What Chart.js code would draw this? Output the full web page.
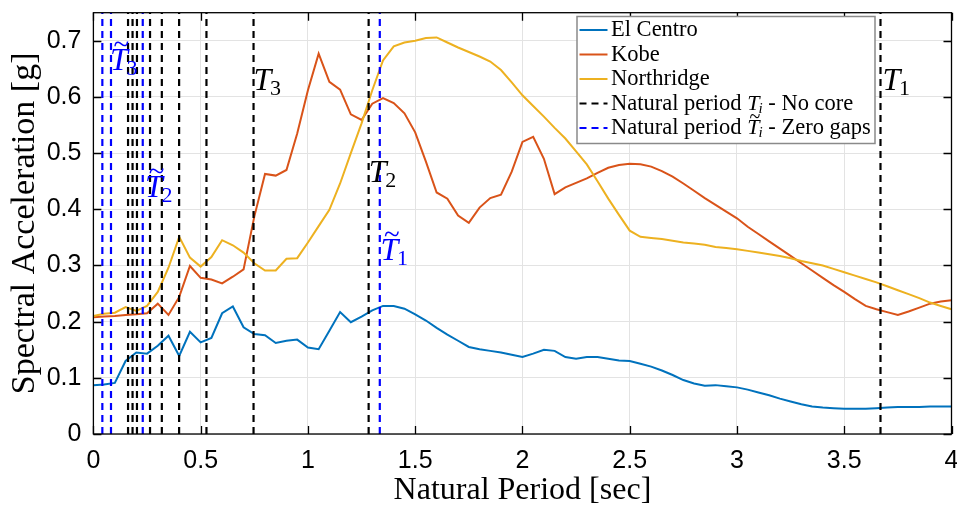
<!DOCTYPE html>
<html>
<head>
<meta charset="utf-8">
<script src="https://cdn.jsdelivr.net/npm/chart.js@4.4.0/dist/chart.umd.min.js"></script>
<style>
  html, body { margin: 0; padding: 0; background: #fff; }
  #wrap { width: 957px; height: 507px; }
</style>
</head>
<body>
<div id="wrap"><canvas id="spectraChart" width="957" height="507"></canvas></div>
<script>
// natural period [sec]
const periods = [
  0, 0.05, 0.1, 0.15, 0.2, 0.25, 0.3, 0.35, 0.4, 0.45,
  0.5, 0.55, 0.6, 0.65, 0.7, 0.75, 0.8, 0.85, 0.9, 0.95,
  1, 1.05, 1.1, 1.15, 1.2, 1.25, 1.3, 1.35, 1.4, 1.45,
  1.5, 1.55, 1.6, 1.65, 1.7, 1.75, 1.8, 1.85, 1.9, 1.95,
  2, 2.05, 2.1, 2.15, 2.2, 2.25, 2.3, 2.35, 2.4, 2.45,
  2.5, 2.55, 2.6, 2.65, 2.7, 2.75, 2.8, 2.85, 2.9, 2.95,
  3, 3.05, 3.1, 3.15, 3.2, 3.25, 3.3, 3.35, 3.4, 3.45,
  3.5, 3.55, 3.6, 3.65, 3.7, 3.75, 3.8, 3.85, 3.9, 3.95, 4
];

// spectral acceleration [g]
const elCentro = [
  0.087, 0.088, 0.091, 0.130, 0.145, 0.143, 0.157, 0.175, 0.139, 0.182,
  0.163, 0.171, 0.215, 0.227, 0.190, 0.178, 0.176, 0.162, 0.166, 0.168,
  0.154, 0.151, 0.184, 0.217, 0.199, 0.209, 0.220, 0.228, 0.228, 0.223,
  0.213, 0.202, 0.189, 0.177, 0.166, 0.155, 0.151, 0.148, 0.145, 0.141,
  0.137, 0.143, 0.150, 0.148, 0.137, 0.134, 0.137, 0.137, 0.134, 0.131,
  0.130, 0.125, 0.120, 0.113, 0.105, 0.096, 0.090, 0.086, 0.087, 0.085,
  0.083, 0.079, 0.074, 0.069, 0.063, 0.058, 0.053, 0.049, 0.047, 0.046,
  0.045, 0.045, 0.045, 0.046, 0.047, 0.048, 0.048, 0.048, 0.049, 0.049, 0.049
];
const kobe = [
  0.208, 0.209, 0.210, 0.212, 0.213, 0.215, 0.232, 0.212, 0.244, 0.299,
  0.278, 0.275, 0.268, 0.280, 0.293, 0.387, 0.463, 0.460, 0.470, 0.535,
  0.612, 0.677, 0.627, 0.613, 0.569, 0.559, 0.588, 0.598, 0.589, 0.571,
  0.537, 0.485, 0.430, 0.419, 0.389, 0.376, 0.403, 0.420, 0.426, 0.467,
  0.520, 0.529, 0.490, 0.427, 0.439, 0.447, 0.455, 0.465, 0.474, 0.479,
  0.481, 0.480, 0.476, 0.468, 0.458, 0.446, 0.433, 0.420, 0.408, 0.396,
  0.384, 0.369, 0.356, 0.343, 0.330, 0.317, 0.304, 0.291, 0.278, 0.265,
  0.253, 0.240, 0.228, 0.222, 0.217, 0.212, 0.218, 0.225, 0.232, 0.236, 0.238
];
const northridge = [
  0.210, 0.214, 0.216, 0.226, 0.219, 0.228, 0.253, 0.296, 0.351, 0.314,
  0.298, 0.315, 0.345, 0.336, 0.323, 0.304, 0.291, 0.291, 0.312, 0.313,
  0.341, 0.370, 0.399, 0.446, 0.500, 0.553, 0.612, 0.665, 0.690, 0.697,
  0.700, 0.705, 0.706, 0.697, 0.688, 0.680, 0.672, 0.663, 0.648, 0.626,
  0.603, 0.584, 0.565, 0.545, 0.526, 0.503, 0.480, 0.450, 0.419, 0.390,
  0.362, 0.351, 0.349, 0.347, 0.344, 0.341, 0.339, 0.337, 0.333, 0.331,
  0.329, 0.326, 0.323, 0.320, 0.317, 0.313, 0.308, 0.304, 0.300, 0.294,
  0.288, 0.282, 0.276, 0.270, 0.263, 0.256, 0.249, 0.242, 0.234, 0.228, 0.222
];

// natural periods of the structure [sec]
const periodsNoCore = [0.1615, 0.1825, 0.203, 0.264, 0.319, 0.3996, 0.527, 0.7465, 1.283, 3.669];
const periodsZeroGaps = [0.0417, 0.082, 0.230, 1.335];

const xTicks = [0, 0.5, 1, 1.5, 2, 2.5, 3, 3.5, 4];
const yTicks = [0, 0.1, 0.2, 0.3, 0.4, 0.5, 0.6, 0.7];

const seriesNames = ['El Centro', 'Kobe', 'Northridge'];
const seriesColors = ['#0072BD', '#D95319', '#EDB120'];

// T labels next to the dashed lines: [symbol, subscript, tilde, period, acc]
const modeLabels = [
  ['T', '3', false, 0.7465, 0.612],
  ['T', '2', false, 1.283, 0.449],
  ['T', '1', false, 3.678, 0.612],
  ['T', '3', true, 0.0775, 0.648],
  ['T', '2', true, 0.241, 0.422],
  ['T', '1', true, 1.338, 0.31]
];

const serif = '"Liberation Serif", "Times New Roman", serif';
const sans = '"Liberation Sans", Arial, Helvetica, sans-serif';

function toPoints(xs, ys) {
  return xs.map((x, i) => ({ x: x, y: ys[i] }));
}

function vLine(t, color) {
  return {
    data: [{ x: t, y: 0 }, { x: t, y: 0.75 }],
    borderColor: color,
    borderWidth: 2.2,
    borderDash: [7, 5],
    pointRadius: 0,
    order: 0
  };
}

// draws T, optional tilde and subscript; returns advance width
function drawSymbol(ctx, sym, sub, tilde, x, y, size, color) {
  ctx.save();
  ctx.fillStyle = color;
  ctx.textBaseline = 'alphabetic';
  ctx.textAlign = 'left';
  ctx.font = 'italic ' + size + 'px ' + serif;
  ctx.fillText(sym, x, y);
  const tm = ctx.measureText(sym);
  const w = tm.width;
  if (tilde) {
    const capTop = y - tm.actualBoundingBoxAscent;
    ctx.font = Math.round(size * 0.9) + 'px ' + serif;
    ctx.textAlign = 'center';
    const gm = ctx.measureText('~');
    // put the bottom of the tilde just above the cap height
    const bottom = capTop - size * 0.06;
    ctx.fillText('~', x + w * 0.64, Math.round(bottom - gm.actualBoundingBoxDescent));
    ctx.textAlign = 'left';
  }
  const subSize = Math.round(size * 0.68);
  ctx.font = (isNaN(+sub) ? 'italic ' : '') + subSize + 'px ' + serif;
  ctx.fillText(sub, x + w - size * 0.04, Math.round(y + size * 0.15));
  const ws = ctx.measureText(sub).width;
  ctx.restore();
  return w + ws - size * 0.04;
}

const framePlugin = {
  id: 'frame',
  afterDatasetsDraw(chart) {
    const { ctx, chartArea: a, scales } = chart;
    const xs = scales.x, ys = scales.y;
    ctx.save();
    ctx.strokeStyle = '#000';
    ctx.lineWidth = 1.3;
    ctx.beginPath();
    xTicks.forEach(v => {
      const p = Math.round(xs.getPixelForValue(v)) + 0.5;
      ctx.moveTo(p, a.bottom); ctx.lineTo(p, a.bottom - 8);
      ctx.moveTo(p, a.top); ctx.lineTo(p, a.top + 8);
    });
    yTicks.forEach(v => {
      const p = Math.round(ys.getPixelForValue(v)) + 0.5;
      ctx.moveTo(a.left, p); ctx.lineTo(a.left + 8, p);
      ctx.moveTo(a.right, p); ctx.lineTo(a.right - 8, p);
    });
    ctx.stroke();
    ctx.strokeRect(a.left, a.top, a.right - a.left, a.bottom - a.top);
    ctx.restore();
  },
  afterDraw(chart) {
    const { ctx, scales } = chart;
    const xs = scales.x, ys = scales.y;

    // labels for the natural periods
    modeLabels.forEach(m => {
      const px = xs.getPixelForValue(m[3]);
      const py = Math.round(ys.getPixelForValue(m[4]));
      drawSymbol(ctx, m[0], m[1], m[2], px, py, 32, m[2] ? '#0000FF' : '#000000');
    });

    // legend
    const bx = 577, by = 16.5, bw = 298, bh = 127, rowH = 24.5;
    ctx.save();
    ctx.fillStyle = '#fff';
    ctx.fillRect(bx, by, bw, bh);
    ctx.strokeStyle = '#8a8a8a';
    ctx.lineWidth = 1.5;
    ctx.strokeRect(bx, by, bw, bh);

    const rows = [
      { color: seriesColors[0], dash: [], parts: [seriesNames[0]] },
      { color: seriesColors[1], dash: [], parts: [seriesNames[1]] },
      { color: seriesColors[2], dash: [], parts: [seriesNames[2]] },
      { color: '#000000', dash: [7, 5], parts: ['Natural period ', ['T', 'i', false], ' - No core'] },
      { color: '#0000FF', dash: [7, 5], parts: ['Natural period ', ['T', 'i', true], ' - Zero gaps'] }
    ];
    rows.forEach((r, i) => {
      const cy = by + 13.5 + i * rowH;
      ctx.strokeStyle = r.color;
      ctx.lineWidth = 2;
      ctx.setLineDash(r.dash);
      ctx.beginPath();
      ctx.moveTo(bx + 2.5, cy);
      ctx.lineTo(bx + 30.5, cy);
      ctx.stroke();
      ctx.setLineDash([]);
      let tx = bx + 34;
      const base = Math.round(cy + 6);
      r.parts.forEach(p => {
        if (typeof p === 'string') {
          ctx.font = '22.5px ' + serif;
          ctx.fillStyle = '#000';
          ctx.textAlign = 'left';
          ctx.textBaseline = 'alphabetic';
          ctx.fillText(p, tx, base);
          tx += ctx.measureText(p).width;
        } else {
          tx += drawSymbol(ctx, p[0], p[1], p[2], tx, base, 22, '#000');
        }
      });
    });
    ctx.restore();
  }
};

const datasets = [
  { label: seriesNames[2], data: toPoints(periods, northridge), borderColor: seriesColors[2], borderWidth: 2, pointRadius: 0, order: 1 },
  { label: seriesNames[1], data: toPoints(periods, kobe), borderColor: seriesColors[1], borderWidth: 2, pointRadius: 0, order: 2 },
  { label: seriesNames[0], data: toPoints(periods, elCentro), borderColor: seriesColors[0], borderWidth: 2, pointRadius: 0, order: 3 }
];
periodsNoCore.forEach(t => datasets.push(vLine(t, '#000000')));
periodsZeroGaps.forEach(t => datasets.push(vLine(t, '#0000FF')));

new Chart(document.getElementById('spectraChart').getContext('2d'), {
  type: 'line',
  data: { datasets: datasets },
  options: {
    responsive: false,
    animation: false,
    devicePixelRatio: 1,
    layout: { padding: { top: 12.7, right: 5.5, left: 0, bottom: 0 } },
    plugins: { legend: { display: false }, tooltip: { enabled: false } },
    elements: { line: { tension: 0 } },
    scales: {
      x: {
        type: 'linear',
        min: 0,
        max: 4,
        afterFit: s => { s.height = 73; s.paddingLeft = 0; s.paddingRight = 0; },
        afterBuildTicks: s => { s.ticks = xTicks.map(v => ({ value: v })); },
        ticks: {
          padding: 12,
          color: '#000',
          font: { family: sans, size: 25 },
          callback: v => String(v),
          maxRotation: 0
        },
        grid: { color: '#e3e3e3', lineWidth: 1, drawTicks: false },
        border: { display: false },
        title: {
          display: true,
          text: 'Natural Period [sec]',
          color: '#000',
          font: { family: serif, size: 32, lineHeight: 1 },
          padding: { top: 0, bottom: 0 }
        }
      },
      y: {
        type: 'linear',
        min: 0,
        max: 0.75,
        afterFit: s => { s.width = 93.4; s.paddingTop = 0; s.paddingBottom = 0; },
        afterBuildTicks: s => { s.ticks = yTicks.map(v => ({ value: v })); },
        ticks: {
          padding: 12,
          color: '#000',
          font: { family: sans, size: 25 },
          callback: v => String(v)
        },
        grid: { color: '#e3e3e3', lineWidth: 1, drawTicks: false },
        border: { display: false },
        title: {
          display: true,
          text: 'Spectral Acceleration [g]',
          color: '#000',
          font: { family: serif, size: 34 },
          padding: { top: 5, bottom: 0 }
        }
      }
    }
  },
  plugins: [framePlugin]
});
</script>
</body>
</html>
